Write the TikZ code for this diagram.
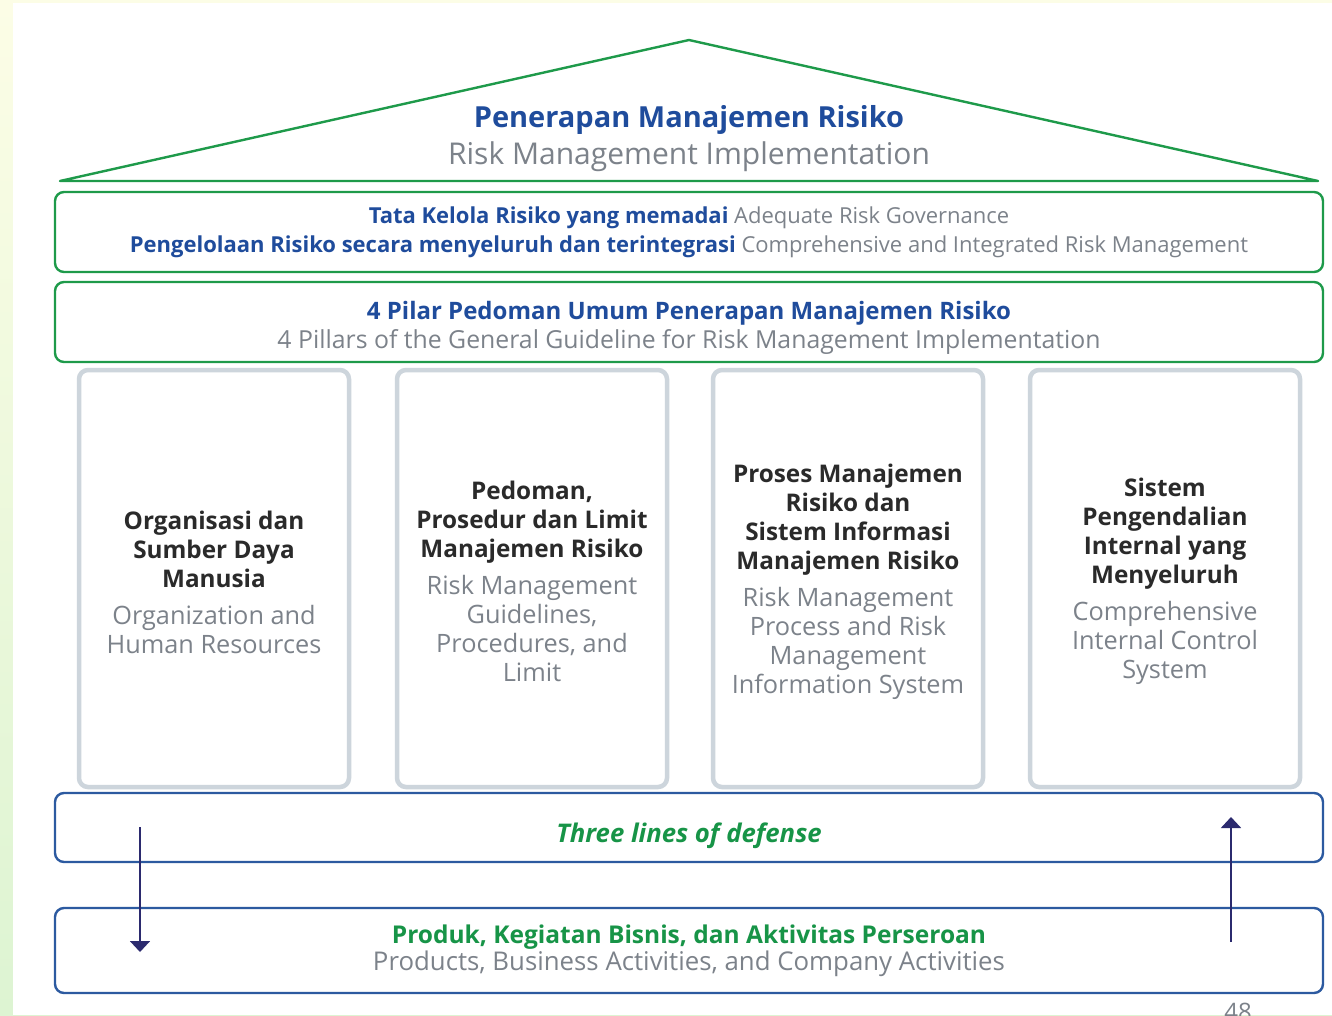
\documentclass[tikz,border=0pt]{standalone}
\usepackage{fontspec}
\setmainfont{Open Sans}
\usetikzlibrary{arrows.meta}
\definecolor{rgreen}{HTML}{1E9A4A}
\definecolor{tgreen}{HTML}{179447}
\definecolor{rblue}{HTML}{2C5AA0}
\definecolor{tblue}{HTML}{1F4C9C}
\definecolor{tdark}{HTML}{2A2A2A}
\definecolor{tgray}{HTML}{7C828A}
\definecolor{pgray}{HTML}{CDD5DC}
\definecolor{anavy}{HTML}{2B2A6E}
\definecolor{bgtop}{HTML}{FCFDE6}
\definecolor{bgbot}{HTML}{DDF4D2}
\newcommand\hd[1]{\textcolor{tdark}{\fontsize{24.3}{29}\selectfont\bfseries #1}}
\newcommand\en[1]{\textcolor{tgray}{\fontsize{25.3}{29}\selectfont #1}}
\newcommand\bl[2]{\textcolor{tblue}{\fontsize{#1}{29}\selectfont\bfseries #2}}
\newcommand\gr[2]{\textcolor{tgray}{\fontsize{#1}{29}\selectfont #2}}
\newcommand\gn[2]{\textcolor{tgreen}{\fontsize{#1}{29}\selectfont\bfseries #2}}
\begin{document}
\begin{tikzpicture}[x=1pt,y=-1pt,
  roof/.style={draw=rgreen,line width=2.4pt,line join=round},
  gbox/.style={draw=rgreen,line width=2.4pt,rounded corners=9pt,minimum width=1268pt},
  bbox/.style={draw=rblue,line width=2.4pt,rounded corners=9pt,minimum width=1268pt},
  pillar/.style={draw=pgray,line width=4.5pt,rounded corners=9pt,minimum width=270pt,minimum height=417pt},
  ptext/.style={align=center,font=\fontsize{23}{29}\selectfont},
  arr/.style={draw=anavy,line width=1.8pt,-{Triangle[length=11pt,width=20pt]}}
]
\useasboundingbox (0,0) rectangle (1332,1015);
\shade[top color=bgtop,bottom color=bgbot] (0,0) rectangle (1332,1015);
\fill[white] (13,3) rectangle (1332,1015);

% roof
\coordinate (apex) at (689,40);
\coordinate (rl) at (60,181);
\coordinate (rr) at (1318,181);
\draw[roof] (rl) -- (apex) -- (rr) -- cycle;
\node[align=center,font=\fontsize{29}{37}\selectfont] (title) at (689,139)
  {\bl{29}{Penerapan Manajemen Risiko}\\\gr{30}{Risk Management Implementation}};

% boxes
\node[gbox,minimum height=80pt] (gov) at (689,232) {};
\node[gbox,minimum height=80pt] (pil) at (689,322) {};
\node[bbox,minimum height=69pt] (tlod) at (689,827.5) {};
\node[bbox,minimum height=85pt] (prod) at (689,950.5) {};

\node[align=center,font=\fontsize{22}{29}\selectfont] (govt) at (gov)
  {\bl{22}{Tata Kelola Risiko yang memadai} \gr{22}{Adequate Risk Governance}\\
   \bl{22}{Pengelolaan Risiko secara menyeluruh dan terintegrasi} \gr{22}{Comprehensive and Integrated Risk Management}};
\node[align=center,font=\fontsize{24}{29}\selectfont] (pilt) at ([yshift=-6pt]pil.center)
  {\bl{24}{4 Pilar Pedoman Umum Penerapan Manajemen Risiko}\\
   \gr{24.8}{4 Pillars of the General Guideline for Risk Management Implementation}};
\node[font=\fontsize{25.7}{29}\selectfont\bfseries\itshape,text=tgreen] (tlodt) at ([yshift=-8pt]tlod.center)
  {Three lines of defense};
\node[align=center,font=\fontsize{24}{27}\selectfont] (prodt) at (prod)
  {\gn{24.5}{Produk, Kegiatan Bisnis, dan Aktivitas Perseroan}\\
   \gr{25.8}{Products, Business Activities, and Company Activities}};

% pillars
\node[pillar] (p1) at (214,578.5) {};
\node[pillar] (p2) at (532,578.5) {};
\node[pillar] (p3) at (848,578.5) {};
\node[pillar] (p4) at (1165,578.5) {};

\node[ptext] (t1) at (214,582)
  {\hd{Organisasi dan}\\\hd{Sumber Daya}\\\hd{Manusia}\\[8pt]\en{Organization and}\\\en{Human Resources}};
\node[ptext] (t2) at (532,581)
  {\hd{Pedoman,}\\\hd{Prosedur dan Limit}\\\hd{Manajemen Risiko}\\[8pt]\en{Risk Management}\\\en{Guidelines,}\\\en{Procedures, and}\\\en{Limit}};
\node[ptext] (t3) at (848,582)
  {\hd{Proses Manajemen}\\\hd{Risiko dan}\\\hd{Sistem Informasi}\\\hd{Manajemen Risiko}\\[8pt]\en{Risk Management}\\\en{Process and Risk}\\\en{Management}\\\en{Information System}};
\node[ptext] (t4) at (1165,581)
  {\hd{Sistem}\\\hd{Pengendalian}\\\hd{Internal yang}\\\hd{Menyeluruh}\\[8pt]\en{Comprehensive}\\\en{Internal Control}\\\en{System}};

% arrows
\coordinate (d1) at (140,827);
\coordinate (d2) at (140,952);
\coordinate (u1) at (1231,942);
\coordinate (u2) at (1231,817);
\draw[arr] (d1) -- (d2);
\draw[arr] (u1) -- (u2);

% page number (cut off at the lower edge, as in the reference)
\begin{scope}
\clip (0,0) rectangle (1332,1015);
\node[font=\fontsize{24}{29}\selectfont,text=tgray] (pg) at (1238,1012) {48};
\end{scope}
\end{tikzpicture}
\end{document}
